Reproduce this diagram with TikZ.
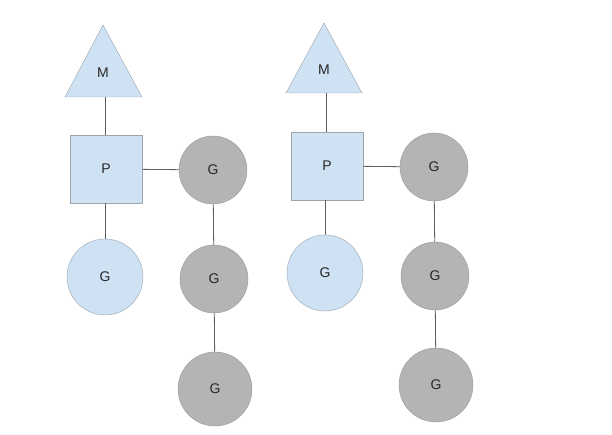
\documentclass[tikz,border=0pt]{standalone}
\usepackage{fontspec}
\setmainfont{Liberation Sans}
\definecolor{lblue}{HTML}{CFE2F3}
\definecolor{gfill}{HTML}{B4B4B4}
\definecolor{edge}{HTML}{9AA5AE}
\definecolor{conn}{HTML}{5F5F5F}
\begin{document}
\begin{tikzpicture}[x=1pt,y=-1pt,
  lbl/.style={font=\fontsize{14}{14}\selectfont, text=black!85},
  pbox/.style={draw=edge, fill=lblue, minimum width=72pt, minimum height=68pt, inner sep=0pt, lbl},
  bcirc/.style={circle, draw=edge, fill=lblue, minimum size=76pt, inner sep=0pt, lbl},
  gcirc/.style={circle, draw=black!40, fill=gfill, minimum size=#1, inner sep=0pt, lbl},
  gcirc/.default=68pt,
  tri/.style={draw=edge, fill=lblue, line join=miter},
  link/.style={draw=conn, line width=0.8pt}]
\useasboundingbox (0,0) rectangle (612,435);
% left group
\draw[tri] (103,25) -- (142,97) -- (65,97) -- cycle;
\coordinate (m1b) at (105,97);
\node[lbl] (m1) at (103,73) {M};
\node[pbox] (p1) at (106,169) {P};
\node[bcirc] (b1) at (105,277) {G};
\node[gcirc] (g11) at (213,170) {G};
\node[gcirc] (g12) at (214,279) {G};
\node[gcirc=74pt] (g13) at (215,389) {G};
\draw[link] (m1b) -- (p1.north -| m1b);
\draw[link] (p1) -- (g11);
\draw[link] (p1.south -| b1) -- (b1);
\draw[link] (g11) -- (g12);
\draw[link] (g12) -- (g13);
% right group
\draw[tri] (324,23) -- (362,93) -- (286,93) -- cycle;
\coordinate (m2b) at (326,93);
\node[lbl] (m2) at (324,70) {M};
\node[pbox] (p2) at (327,166) {P};
\node[bcirc] (b2) at (325,273) {G};
\node[gcirc] (g21) at (434,167) {G};
\node[gcirc] (g22) at (435,276) {G};
\node[gcirc=74pt] (g23) at (436,385) {G};
\draw[link] (m2b) -- (p2.north -| m2b);
\draw[link] (p2) -- (g21);
\draw[link] (p2.south -| b2) -- (b2);
\draw[link] (g21) -- (g22);
\draw[link] (g22) -- (g23);
\end{tikzpicture}
\end{document}
